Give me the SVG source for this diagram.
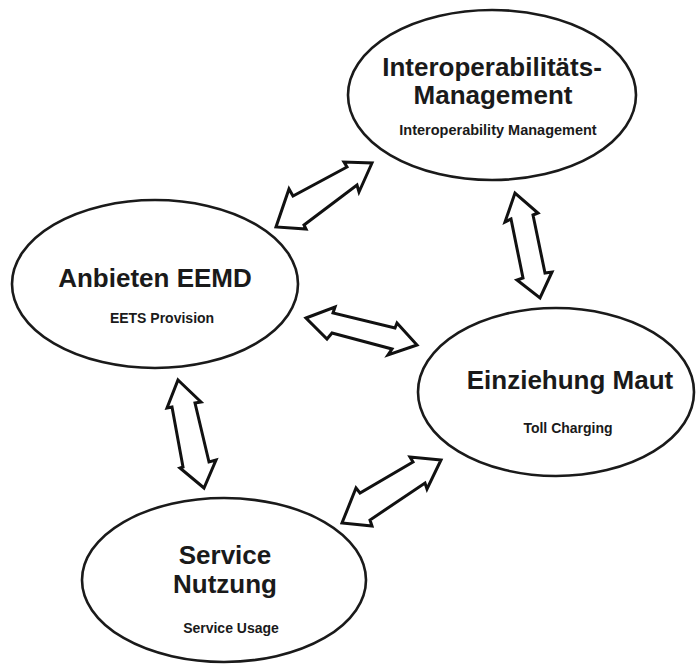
<svg xmlns="http://www.w3.org/2000/svg" width="696" height="664" viewBox="0 0 696 664">
<style>
.node{fill:#fff;stroke:#1a1a1a;stroke-width:2.6}
.big{font-family:"Liberation Sans",Arial,sans-serif;font-weight:bold;font-size:26px;fill:#1a1a1a;text-anchor:middle}
.small{font-family:"Liberation Sans",Arial,sans-serif;font-weight:bold;font-size:14px;fill:#1a1a1a;text-anchor:middle}
.arrow{fill:#fff;stroke:#111;stroke-width:3;stroke-linejoin:miter;stroke-miterlimit:10}
</style>
<rect width="696" height="664" fill="#fff"/>
<g id="node-interop">
<ellipse class="node" cx="492" cy="95" rx="144" ry="85"/>
<text class="big" x="492" y="76">Interoperabilitäts-</text>
<text class="big" x="493" y="104">Management</text>
<text class="small" x="498" y="135" style="font-size:14.5px">Interoperability Management</text>
</g>
<g id="node-eets">
<ellipse class="node" cx="155" cy="284" rx="143" ry="84"/>
<text class="big" x="155" y="287">Anbieten EEMD</text>
<text class="small" x="162" y="323">EETS Provision</text>
</g>
<g id="node-toll">
<ellipse class="node" cx="556" cy="392" rx="138" ry="84"/>
<text class="big" x="570" y="389">Einziehung Maut</text>
<text class="small" x="568" y="433">Toll Charging</text>
</g>
<g id="node-usage">
<ellipse class="node" cx="224" cy="580" rx="142" ry="82"/>
<text class="big" x="225" y="564">Service</text>
<text class="big" x="225" y="593">Nutzung</text>
<text class="small" x="231" y="633">Service Usage</text>
</g>
<g id="connectors">
<polygon class="arrow" points="372,163 359,192 357,185 304,225 306,229 276,227 289,189 293,196 347,167 344,162"/>
<polygon class="arrow" points="515,193 505,222 511,219 523,278 517,280 540,298 552,272 545,273 533,215 538,213"/>
<polygon class="arrow" points="306,318 335,307 333,313 395,328 397,323 417,345 388,355 392,349 332,333 327,339"/>
<polygon class="arrow" points="178,380 201,402 195,403 209,462 216,460 204,488 180,468 183,467 172,407 167,408"/>
<polygon class="arrow" points="441,460 410,457 413,462 360,493 356,488 342,523 372,526 370,520 425,483 427,489"/>
</g>
</svg>
